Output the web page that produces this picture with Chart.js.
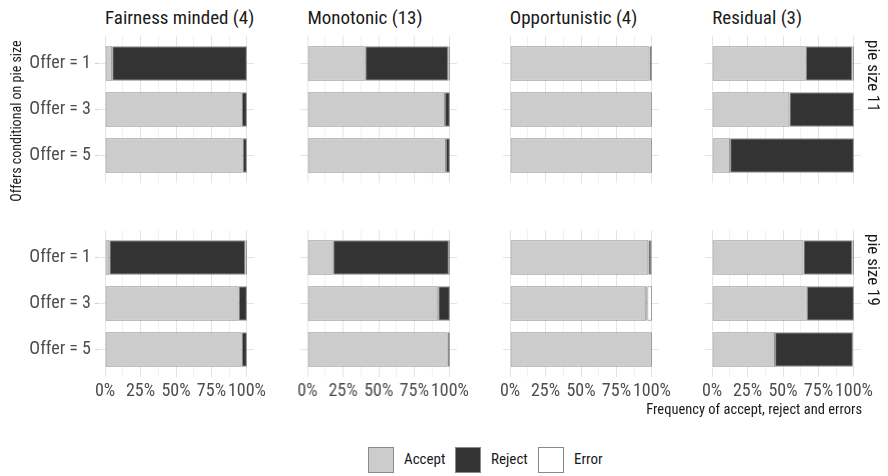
<!DOCTYPE html>
<html>
<head>
<meta charset="utf-8">
<script src="https://cdn.jsdelivr.net/npm/chart.js@4/dist/chart.umd.min.js"></script>
<style>
  body { margin: 0; background: #fff; }
  #wrap { position: relative; width: 888px; height: 476px; overflow: hidden;
          font-family: 'Roboto Condensed', 'Liberation Sans Narrow', 'DejaVu Sans Condensed', Roboto, sans-serif; }
  canvas { position: absolute; }
  .txt { position: absolute; white-space: nowrap; }
  .title { font-size: 19px; color: #1a1a1a; top: 6px; }
  .strip { font-size: 17px; color: #1a1a1a; writing-mode: vertical-rl; }
  .ytitle { font-size: 14px; color: #1a1a1a; transform: rotate(-90deg); transform-origin: center; }
  .xtitle { font-size: 14.5px; color: #1a1a1a; }
  .lkey { position: absolute; width: 26px; height: 26px; box-sizing: border-box; border: 1px solid #8a8a8a; }
  .ltxt { font-size: 15px; color: #1a1a1a; }
</style>
</head>
<body>
<div id="wrap"></div>
<script>
// categories and labels
const offers = ['Offer = 1', 'Offer = 3', 'Offer = 5'];
const offerPos = [1, 2, 3];
const types = ['Fairness minded (4)', 'Monotonic (13)', 'Opportunistic (4)', 'Residual (3)'];
const pieSizes = ['pie size 11', 'pie size 19'];
const xTicks = [0, 25, 50, 75, 100];
const outcomes = ['Accept', 'Reject', 'Error'];

// shares in percent, one row per type, values for Offer = 1, 3, 5
const accept11 = [[5, 96.3, 97], [40.5, 96.5, 97.2], [98.3, 100, 100], [66, 54.5, 12.7]];
const reject11 = [[95, 3.7, 3], [58.5, 3.5, 2.8], [1.7, 0, 0], [33, 45.5, 87.3]];
const error11 = [[0, 0, 0], [1, 0, 0], [0, 0, 0], [1, 0, 0]];
const accept19 = [[3, 94.1, 96.3], [17.9, 91.8, 98.4], [97.5, 96, 100], [64.4, 66.7, 44.4]];
const reject19 = [[96, 5.9, 3.7], [81.4, 8.2, 1.6], [2, 0.8, 0], [34.6, 33.3, 54.9]];
const error19 = [[1, 0, 0], [0.7, 0, 0], [0.5, 3.2, 0], [1, 0, 0]];

const fills = ['#cccccc', '#333333', '#ffffff'];
const edge = '#8a8a8a';
const FONT = "'Roboto Condensed', 'Liberation Sans Narrow', 'DejaVu Sans Condensed', Roboto, sans-serif";

const wrap = document.getElementById('wrap');
const colLeft = [98, 300.4, 502.8, 705.2];
const rowTop = [36, 230];
const panelW = 156.2, panelH = 147;
const padL = 98, padR = 20, padB = 30;

function addText(cls, text, css) {
  const d = document.createElement('div');
  d.className = 'txt ' + cls;
  d.textContent = text;
  Object.assign(d.style, css);
  wrap.appendChild(d);
  return d;
}

function panel(row, col) {
  const sets = row === 0 ? [accept11, reject11, error11] : [accept19, reject19, error19];
  const cv = document.createElement('canvas');
  const w = padL + panelW + padR, h = panelH + padB;
  cv.width = w; cv.height = h;
  cv.style.left = (colLeft[col] - padL) + 'px';
  cv.style.top = rowTop[row] + 'px';
  cv.style.width = w + 'px'; cv.style.height = h + 'px';
  wrap.appendChild(cv);

  new Chart(cv.getContext('2d'), {
    type: 'bar',
    data: {
      datasets: outcomes.map((name, k) => ({
        label: name,
        data: offerPos.map((p, i) => ({ x: sets[k][col][i] || null, y: p })),
        backgroundColor: fills[k],
        borderColor: edge,
        borderWidth: 1,
        borderSkipped: false,
        categoryPercentage: 0.75,
        barPercentage: 1
      }))
    },
    options: {
      indexAxis: 'y',
      responsive: false,
      animation: false,
      devicePixelRatio: 1,
      layout: { padding: { top: 0, right: padR, bottom: 0, left: 0 } },
      plugins: { legend: { display: false }, tooltip: { enabled: false } },
      scales: {
        x: {
          type: 'linear', stacked: true, min: -5, max: 105,
          afterBuildTicks: s => {
            const t = [];
            xTicks.forEach((v, i) => {
              t.push({ value: v });
              if (i < xTicks.length - 1) t.push({ value: (v + xTicks[i + 1]) / 2 });
            });
            s.ticks = t;
          },
          afterFit: s => { s.height = padB; s.paddingLeft = 0; s.paddingRight = 0; },
          border: { display: false },
          grid: {
            drawTicks: false,
            color: c => xTicks.includes(c.tick.value) ? '#e4e4e4' : '#eeeeee',
            lineWidth: c => xTicks.includes(c.tick.value) ? 1 : 0.8
          },
          ticks: {
            display: row === 1,
            autoSkip: false, maxRotation: 0,
            padding: 4,
            color: '#4d4d4d',
            font: { family: FONT, size: 18 },
            callback: v => xTicks.includes(v) ? v + '%' : ''
          }
        },
        y: {
          type: 'linear', stacked: true, min: 0.4, max: 3.6, reverse: true,
          offset: false,
          afterBuildTicks: s => { s.ticks = offerPos.map(v => ({ value: v })); },
          afterFit: s => { s.width = padL; s.paddingTop = 0; s.paddingBottom = 0; },
          border: { display: false },
          grid: { offset: false, color: '#e4e4e4', drawTicks: col === 0, tickLength: 3, tickColor: '#cfcfcf' },
          ticks: {
            display: col === 0,
            autoSkip: false,
            padding: 4,
            color: '#4d4d4d',
            font: { family: FONT, size: 18 },
            callback: (v, i) => offers[i]
          }
        }
      }
    }
  });
}

for (let r = 0; r < 2; r++) for (let c = 0; c < 4; c++) panel(r, c);

// facet titles
types.forEach((t, c) => addText('title', t, { left: (colLeft[c] + 7) + 'px' }));
// row strips
pieSizes.forEach((t, r) => {
  addText('strip', t, { left: '864px', top: (rowTop[r] + 4) + 'px' });
});
// axis titles
addText('ytitle', 'Offers conditional on pie size', { left: '-74px', top: '113px', width: '180px', textAlign: 'center' });
addText('xtitle', 'Frequency of accept, reject and errors', { right: (888 - 862) + 'px', top: '401px' });

// legend
const keyLeft = [368, 455, 538];
outcomes.forEach((name, k) => {
  const b = document.createElement('div');
  b.className = 'lkey';
  Object.assign(b.style, { left: keyLeft[k] + 'px', top: '447px', background: fills[k] });
  wrap.appendChild(b);
  addText('ltxt', name, { left: (keyLeft[k] + 36) + 'px', top: '450px' });
});
</script>
</body>
</html>
